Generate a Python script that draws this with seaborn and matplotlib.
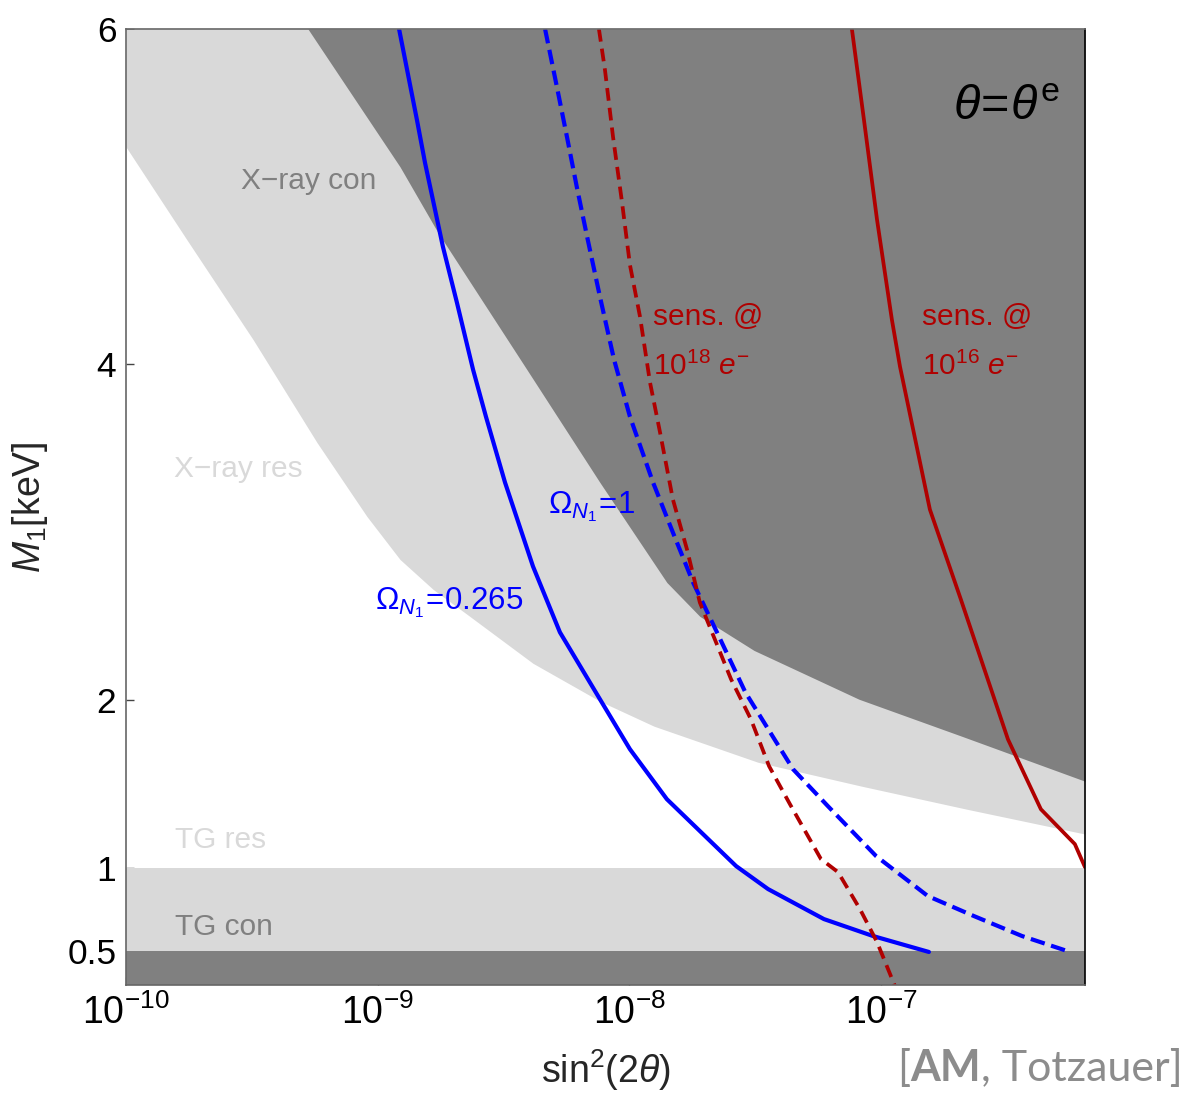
import matplotlib
matplotlib.use("Agg")
import matplotlib.pyplot as plt
import seaborn as sns
from matplotlib.offsetbox import TextArea, HPacker, AnchoredOffsetbox

# ---------------- data ----------------
# X-ray "res" band: lower-left boundary (region extends up to the top)
xray_res_x = [1.0e-10, 1.746e-10, 3.199e-10, 5.741e-10, 9.057e-10, 1.227e-9, 1.660e-9,
              2.265e-9, 4.140e-9, 7.638e-9, 1.253e-8, 3.243e-8, 8.395e-8, 2.193e-7, 6.46e-7]
xray_res_lo = [5.297, 4.743, 4.148, 3.534, 3.094, 2.837, 2.659,
               2.510, 2.218, 1.992, 1.843, 1.628, 1.485, 1.348, 1.200]

# X-ray "con" region: lower-left boundary
xray_con_x = [5.284e-10, 1.227e-9, 1.738e-9, 3.917e-9, 7.638e-9, 1.409e-8, 1.905e-8,
              3.126e-8, 8.166e-8, 2.094e-7, 6.46e-7]
xray_con_lo = [6.0, 5.178, 4.785, 3.969, 3.296, 2.700, 2.498,
               2.295, 2.004, 1.783, 1.515]

# Tremaine-Gunn bands (M1 ranges)
tg_res_band = [0.5, 1.0]
tg_con_band = [0.3, 0.5]

# Omega_N1 = 0.265
om0265_x = [1.216e-9, 1.432e-9, 1.542e-9, 1.816e-9, 2.065e-9, 2.393e-9, 2.692e-9, 3.206e-9,
            4.140e-9, 5.297e-9, 7.638e-9, 1.005e-8, 1.409e-8, 2.655e-8, 3.556e-8,
            5.929e-8, 9.290e-8, 1.549e-7]
om0265_m = [6.000, 5.458, 5.202, 4.702, 4.368, 3.969, 3.689, 3.296,
            2.796, 2.403, 2.004, 1.706, 1.408, 1.009, 0.872,
            0.693, 0.592, 0.497]

# Omega_N1 = 1
om1_x = [4.624e-9, 5.152e-9, 5.649e-9, 6.180e-9, 6.792e-9, 7.638e-9, 8.690e-9, 1.005e-8,
         1.242e-8, 1.489e-8, 1.791e-8, 2.228e-8, 2.890e-8, 4.467e-8, 6.152e-8, 9.550e-8,
         1.535e-7, 2.339e-7, 3.631e-7, 5.483e-7]
om1_m = [6.000, 5.655, 5.357, 5.059, 4.762, 4.404, 4.029, 3.689,
         3.296, 2.998, 2.700, 2.403, 2.045, 1.587, 1.366, 1.069,
         0.830, 0.711, 0.592, 0.503]

# sensitivity @ 1e18 electrons
sens18_x = [7.568e-9, 7.998e-9, 8.610e-9, 9.354e-9, 1.005e-8, 1.102e-8, 1.208e-8, 1.324e-8,
            1.489e-8, 1.694e-8, 1.905e-8, 2.535e-8, 3.041e-8, 3.589e-8, 4.345e-8, 5.768e-8,
            6.745e-8, 8.241e-8, 9.638e-8, 1.135e-7]
sens18_m = [6.000, 5.756, 5.357, 4.964, 4.594, 4.285, 3.892, 3.594,
            3.195, 2.897, 2.581, 2.123, 1.884, 1.605, 1.378, 1.051,
            0.973, 0.753, 0.556, 0.294]

# sensitivity @ 1e16 electrons
sens16_x = [7.656e-8, 8.551e-8, 9.638e-8, 1.104e-7, 1.189e-7, 1.563e-7, 2.075e-7,
            3.192e-7, 4.315e-7, 5.888e-7, 6.457e-7]
sens16_m = [6.000, 5.458, 4.862, 4.267, 3.987, 3.135, 2.599,
            1.765, 1.348, 1.140, 1.003]

x_lim = [1e-10, 6.46e-7]
y_lim = [0.3, 6.0]
x_ticks = [1e-10, 1e-9, 1e-8, 1e-7]
y_ticks = [0.5, 1, 2, 4, 6]
y_ticklabels = ["0.5", "1", "2", "4", "6"]

# ---------------- style ----------------
sns.set_theme(style="ticks")
plt.rcParams['font.family'] = ['Liberation Sans', 'DejaVu Sans']
plt.rcParams['mathtext.fontset'] = 'custom'
plt.rcParams['mathtext.rm'] = 'Liberation Sans'
plt.rcParams['mathtext.it'] = 'Liberation Sans:italic'
plt.rcParams['mathtext.bf'] = 'Liberation Sans:bold'
plt.rcParams['mathtext.sf'] = 'Liberation Sans'

DARK = "#808080"
LIGHT = "#d9d9d9"
BLUE = "#0000ff"
RED = "#b00000"

fig = plt.figure(figsize=(11.87, 10.94), dpi=100)
ax = fig.add_axes([126 / 1187, 1 - 985 / 1094, (1085 - 126) / 1187, (985 - 29) / 1094])
ax.set_xscale('log')
ax.set_xlim(*x_lim)
ax.set_ylim(*y_lim)

# regions
ax.fill_between(xray_res_x, xray_res_lo, y_lim[1], color=LIGHT, lw=0, zorder=1)
ax.fill_between(xray_con_x, xray_con_lo, y_lim[1], color=DARK, lw=0, zorder=2)
ax.fill_between(x_lim, tg_res_band[0], tg_res_band[1], color=LIGHT, lw=0, zorder=1)
ax.fill_between(x_lim, tg_con_band[0], tg_con_band[1], color=DARK, lw=0, zorder=2)

# curves
sns.lineplot(x=om0265_x, y=om0265_m, ax=ax, color=BLUE, lw=3.0, sort=False,
             estimator=None, zorder=5)
sns.lineplot(x=om1_x, y=om1_m, ax=ax, color=BLUE, lw=3.0, sort=False,
             estimator=None, zorder=5, linestyle=(0, (3.5, 1.6)))
sns.lineplot(x=sens18_x, y=sens18_m, ax=ax, color=RED, lw=2.7, sort=False,
             estimator=None, zorder=6, linestyle=(0, (3.4, 1.9)))
sns.lineplot(x=sens16_x, y=sens16_m, ax=ax, color=RED, lw=2.7, sort=False,
             estimator=None, zorder=6)

# labels in the plot
fs = 21.5
ax.text(2.864e-10, 5.095, "X\u2212ray con", color=DARK, fontsize=fs, va='center', ha='left', zorder=7)
ax.text(1.552e-10, 3.379, "X\u2212ray res", color=LIGHT, fontsize=fs, va='center', ha='left', zorder=7)
ax.text(1.566e-10, 1.164, "TG res", color=LIGHT, fontsize=fs, va='center', ha='left', zorder=7)
ax.text(1.566e-10, 0.646, "TG con", color=DARK, fontsize=fs, va='center', ha='left', zorder=7)
ax.text(9.75e-10, 2.54, r"$\Omega_{N_{\mathregular{1}}}\!\mathregular{=}\!\mathregular{0.265}$",
        color=BLUE, fontsize=22.5, va='baseline', ha='left', zorder=7)
ax.text(4.753e-9, 3.111, r"$\Omega_{N_{\mathregular{1}}}\!\mathregular{=}\!\mathregular{1}$",
        color=BLUE, fontsize=22.5, va='baseline', ha='left', zorder=7)
ax.text(1.242e-8, 4.237, "sens. @", color=RED, fontsize=fs, va='baseline', ha='left', zorder=7)
ax.text(1.242e-8, 3.939, r"$\mathregular{10^{18}}\ e^{-}$", color=RED, fontsize=fs,
        va='baseline', ha='left', zorder=7)
ax.text(1.455e-7, 4.237, "sens. @", color=RED, fontsize=fs, va='baseline', ha='left', zorder=7)
ax.text(1.455e-7, 3.939, r"$\mathregular{10^{16}}\ e^{-}$", color=RED, fontsize=fs,
        va='baseline', ha='left', zorder=7)
ax.text(5.14e-7, 5.458, r"$\theta\!\mathregular{=}\!\theta^{\mathregular{e}}$", color='black',
        fontsize=35, va='baseline', ha='right', zorder=7)

# axes styling
ax.set_xticks(x_ticks)
ax.minorticks_off()
ax.set_yticks(y_ticks)
ax.set_yticklabels(y_ticklabels)
ax.tick_params(axis='both', which='major', direction='in', length=6, width=1,
               colors='#444444', labelcolor='black', pad=7,
               top=False, right=False)
ax.tick_params(axis='y', labelsize=25.5)
ax.tick_params(axis='x', labelsize=27)
for side in ['left', 'bottom', 'top']:
    ax.spines[side].set_color('#666666')
    ax.spines[side].set_linewidth(1.2)
ax.spines['right'].set_color('black')
ax.spines['right'].set_linewidth(1.2)
for sp in ax.spines.values():
    sp.set_zorder(10)

ax.set_xlabel(r"$\mathregular{sin^{2}(2}\theta\mathregular{)}$", fontsize=27, labelpad=11)
ax.set_ylabel(r"$M_{\mathregular{1}}\mathregular{[keV]}$", fontsize=27, labelpad=12)

# attribution
tp = dict(color='#8c8c8c', fontsize=31, family=['Lato', 'DejaVu Sans'])
parts = [TextArea("[", textprops=tp),
         TextArea("AM", textprops=dict(tp, weight='bold')),
         TextArea(", Totzauer]", textprops=tp)]
pack = HPacker(children=parts, align='baseline', pad=0, sep=0)
box = AnchoredOffsetbox(loc='lower right', child=pack, pad=0, borderpad=0, frameon=False,
                        bbox_to_anchor=(1183 / 1187, 1 - 1088 / 1094),
                        bbox_transform=fig.transFigure)
fig.add_artist(box)

fig.savefig("out.png", dpi=100)
